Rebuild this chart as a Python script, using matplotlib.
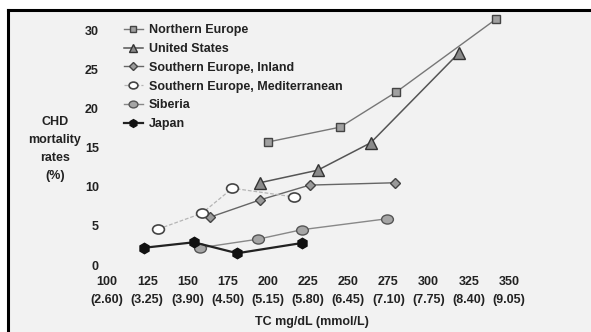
import matplotlib
matplotlib.use("Agg")
import matplotlib.pyplot as plt
from matplotlib.lines import Line2D
from matplotlib.patches import Rectangle
from matplotlib.path import Path
from matplotlib.transforms import Affine2D

# data (x = TC mg/dL, y = CHD mortality %)
ne_x = [200, 245, 280, 342]
ne_y = [15.7, 17.6, 22.1, 31.4]
us_x = [195, 231, 264, 319]
us_y = [10.5, 12.1, 15.6, 27.1]
inl_x = [164, 195, 226, 279]
inl_y = [6.1, 8.3, 10.2, 10.5]
med_x = [132, 159, 178, 216]
med_y = [4.6, 6.6, 9.8, 8.7]
sib_x = [158, 194, 221, 274]
sib_y = [2.2, 3.3, 4.5, 5.9]
jp_x = [123, 154, 181, 221]
jp_y = [2.2, 2.9, 1.5, 2.8]

x_ticks = [100, 125, 150, 175, 200, 225, 250, 275, 300, 325, 350]
mmol = ['2.60', '3.25', '3.90', '4.50', '5.15', '5.80', '6.45', '7.10', '7.75', '8.40', '9.05']
y_ticks = [0, 5, 10, 15, 20, 25, 30]

plt.rcParams['font.family'] = ['Liberation Sans', 'DejaVu Sans']
plt.rcParams['font.weight'] = 'bold'
TXT = '#222222'
FS = 9

# slightly flattened circle for the round markers
ellipse = Path.unit_circle().transformed(Affine2D().scale(1.3, 1.0))

W, H = 591, 332
fig = plt.figure(figsize=(W / 100, H / 100), dpi=100)
fig.patch.set_facecolor('white')

# light grey page with black frame at top and left
fig.add_artist(Rectangle((8 / W, 0), 1, 1 - 9 / H, transform=fig.transFigure,
                         facecolor='#f2f2f2', edgecolor='none', zorder=0))
fig.add_artist(Line2D([8 / W, 1], [1 - 9.5 / H, 1 - 9.5 / H], transform=fig.transFigure,
                      color='black', lw=2.2))
fig.add_artist(Line2D([8 / W, 8 / W], [0, 1 - 9.5 / H], transform=fig.transFigure,
                      color='black', lw=2.2))

ax = fig.add_axes([103 / W, 1 - 268 / H, 457 / W, 253 / H])
ax.set_facecolor('none')
ax.set_xlim(100 - 4 / 1.608, 100 + 453 / 1.608)
ax.set_ylim(-3 / 7.833, 250 / 7.833)
for s in ax.spines.values():
    s.set_visible(False)

ax.plot(ne_x, ne_y, color='#777777', lw=1, marker='s', ms=6, mfc='#a0a0a0',
        mec='#444444', mew=1, label='Northern Europe', clip_on=False)
ax.plot(us_x, us_y, color='#555555', lw=1.1, marker='^', ms=8, mfc='#8a8a8a',
        mec='#333333', mew=1, label='United States', clip_on=False)
ax.plot(inl_x, inl_y, color='#666666', lw=1, marker='D', ms=5, mfc='#9a9a9a',
        mec='#444444', mew=1, label='Southern Europe, Inland', clip_on=False)
ax.plot(med_x, med_y, color='#b5b5b5', lw=0.9, ls=(0, (3, 1.5)), marker=ellipse, ms=8.5,
        mfc='white', mec='#444444', mew=1.2, label='Southern Europe, Mediterranean',
        clip_on=False)
ax.plot(sib_x, sib_y, color='#888888', lw=1, marker=ellipse, ms=8.5, mfc='#a5a5a5',
        mec='#555555', mew=1, label='Siberia', clip_on=False)
ax.plot(jp_x, jp_y, color='#222222', lw=1.6, marker='h', ms=7.5, mfc='#111111',
        mec='#111111', label='Japan', clip_on=False)

ax.set_xticks(x_ticks)
ax.set_xticklabels([f'{t}\n({m})' for t, m in zip(x_ticks, mmol)],
                   fontsize=FS, linespacing=1.65, color=TXT)
ax.set_yticks(y_ticks)
ax.set_yticklabels([str(t) for t in y_ticks], fontsize=FS, color=TXT)
ax.tick_params(axis='both', length=0)
ax.tick_params(axis='x', pad=6)
ax.tick_params(axis='y', pad=3)

leg = ax.legend(loc='upper left', bbox_to_anchor=(124 / W, 1 - 24 / H),
                bbox_transform=fig.transFigure, frameon=False, fontsize=FS,
                handlelength=1.5, handletextpad=0.5, labelspacing=0.55,
                borderaxespad=0, borderpad=0, markerscale=0.75)
for t in leg.get_texts():
    t.set_color(TXT)

fig.text(55 / W, 1 - 149 / H, 'CHD\nmortality\nrates\n(%)', ha='center', va='center',
         fontsize=FS, linespacing=1.65, color=TXT)
fig.text(312 / W, 1 - 322 / H, 'TC mg/dL (mmol/L)', ha='center', va='center',
         fontsize=FS, color=TXT)

fig.savefig('out.png', dpi=100)
